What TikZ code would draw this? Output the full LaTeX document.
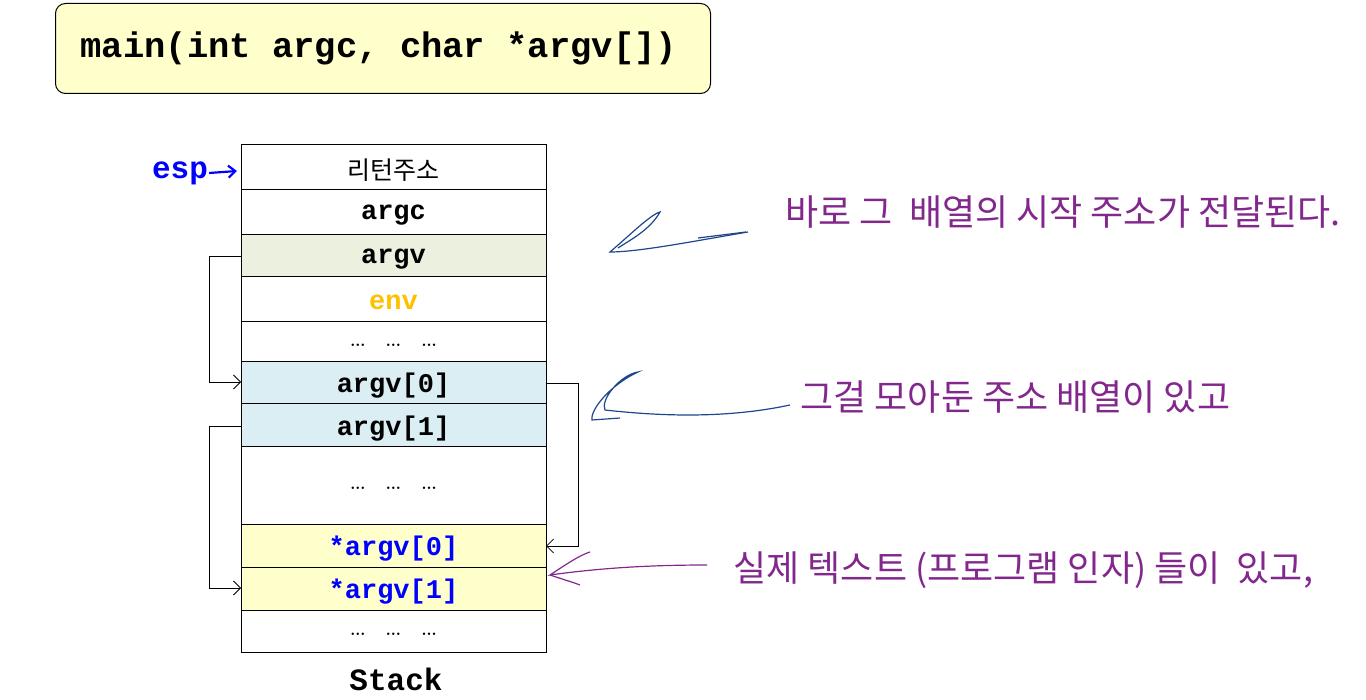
\documentclass[tikz,border=0pt]{standalone}
\usepackage{fontspec}
\usetikzlibrary{arrows.meta}
\setmonofont{Liberation Mono}
\newfontfamily\kr{Noto Sans CJK KR}
\begin{document}
\begin{tikzpicture}[x=1pt,y=-1pt]
\useasboundingbox (0,0) rectangle (1366,700);
\definecolor{ylw}{RGB}{255,255,204}
\definecolor{grn}{RGB}{235,241,222}
\definecolor{blu}{RGB}{218,238,243}
\definecolor{org}{RGB}{255,192,0}
\definecolor{pur}{RGB}{130,40,140}
\definecolor{dblu}{RGB}{30,70,140}
\tikzset{cell/.style={draw,line width=1pt},
 lbl/.style={font=\ttfamily\bfseries\fontsize{27}{27}\selectfont},
 hand/.style={font=\kr\fontsize{36}{36}\selectfont,text=pur,anchor=west},
 conn/.style={draw,line width=0.8pt,-{Straight Barb[length=7pt]}}}
\node[draw,rounded corners=10pt,fill=ylw,line width=1pt,minimum width=655,minimum height=90,anchor=north west] (title) at (55,3) {};
\node[font=\ttfamily\bfseries\fontsize{35.5}{35.5}\selectfont,anchor=west] (tt) at (77,48) {main(int argc, char *argv[])};
\foreach \n/\a/\b/\c/\t/\tc in {r/145/190/white/{\kr\mdseries\fontsize{25}{25}\selectfont 리턴주소}/black,
  argc/190/235/white/argc/black, argv/235/277/grn/argv/black, env/277/322/white/env/org,
  d1/322/362/white/{\rmfamily\mdseries\fontsize{30}{30}\selectfont …\ \ …\ \ …}/black, a0/362/404/blu/argv[0]/black, a1/404/447/blu/argv[1]/black,
  d2/447/524/white/{\rmfamily\mdseries\fontsize{30}{30}\selectfont …\ \ …\ \ …}/black, s0/524/567/ylw/*argv[0]/blue, s1/567/610/ylw/*argv[1]/blue,
  d3/610/652/white/{\rmfamily\mdseries\fontsize{30}{30}\selectfont …\ \ …\ \ …}/black}{
  \path[cell,fill=\c] (241,\a) rectangle (546,\b);
  \node[lbl,text=\tc] (\n) at (393.5,{(\a+\b)/2+3}) {\t};
}
\node[font=\ttfamily\bfseries\fontsize{31}{31}\selectfont] (stk) at (396,679) {Stack};
\node[text=blue,font=\ttfamily\bfseries\fontsize{31}{31}\selectfont,inner sep=1pt] (esp) at (180,173) {esp};
\draw[blue,line width=2.2pt,-{Straight Barb[length=7pt,width=12pt]}] (esp.east) -- (237,171);
\coordinate (L0) at (241,256); \coordinate (L1) at (241,382);
\draw[conn] (L0) -- (209,256) -- (209,382) -- (L1);
\coordinate (R0) at (546,383); \coordinate (R1) at (546,546);
\draw[conn] (R0) -- (578,383) -- (578,546) -- (R1);
\coordinate (M0) at (241,426); \coordinate (M1) at (241,588);
\draw[conn] (M0) -- (209,426) -- (209,588) -- (M1);
\node[hand] (h1) at (782,212) {바로 그 \ 배열의 시작 주소가 전달된다.};
\node[hand] (h2) at (797,397) {그걸 모아둔 주소 배열이 있고};
\node[hand] (h3) at (730,570) {실제 텍스트 (프로그램 인자) 들이 \ 있고,};
\draw[dblu,line width=1.2pt] (748,232) .. controls (700,240) and (640,252) .. (610,252) .. controls (630,235) and (650,215) .. (660,212) .. controls (650,230) and (630,240) .. (618,248);
\draw[dblu,line width=1.2pt] (698,238) -- (746,232);
\draw[dblu,line width=1.2pt] (790,405) .. controls (720,420) and (650,415) .. (605,410) .. controls (600,400) and (620,375) .. (638,372) .. controls (610,385) and (590,410) .. (592,420) -- (620,418);
\draw[pur,line width=1.2pt] (707,565) .. controls (650,565) and (600,568) .. (550,575) .. controls (565,565) and (580,555) .. (590,552);
\draw[pur,line width=1.2pt] (550,575) .. controls (565,580) and (575,583) .. (580,585);
\end{tikzpicture}
\end{document}
